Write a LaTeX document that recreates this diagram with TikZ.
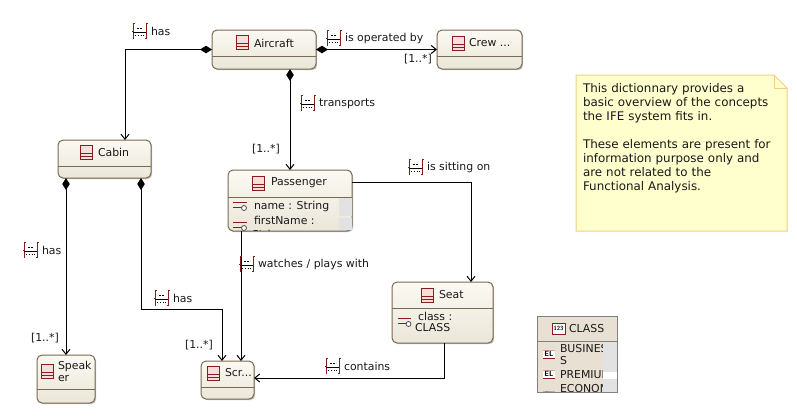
\documentclass[tikz,border=0pt]{standalone}
\usepackage{fontspec}
\setmainfont{DejaVu Sans}
\usetikzlibrary{arrows.meta,shapes.geometric,shadows}
\definecolor{cborder}{HTML}{7A6A50}
\definecolor{ctop}{HTML}{FBF9F2}
\definecolor{cbot}{HTML}{EAE6D9}
\definecolor{cred}{HTML}{8A1C1C}
\definecolor{cpink}{HTML}{F6DEDC}
\definecolor{cenum}{HTML}{E8E1D3}
\definecolor{cenumb}{HTML}{808080}
\definecolor{cscroll}{HTML}{E2E2E2}
\definecolor{cnote}{HTML}{FFFFCE}
\definecolor{cnoteb}{HTML}{F0CE82}
\tikzset{
  x=1pt,y=-1pt,
  every node/.style={font=\fontsize{10.9}{13}\selectfont,inner sep=0pt,outer sep=0pt,text=black!90},
  classbox/.style={draw=cborder,line width=1pt,rounded corners=5pt,top color=ctop,bottom color=cbot,
    drop shadow={shadow xshift=1.2pt,shadow yshift=-1.2pt,fill=black!40,opacity=.6},anchor=north west},
  enumbox/.style={draw=cenumb,line width=.9pt,fill=cenum,anchor=north west,
    drop shadow={shadow xshift=1pt,shadow yshift=-1pt,fill=black!30,opacity=.5}},
  sep/.style={draw=cborder,line width=.9pt},
  txt/.style={anchor=west,align=left},
  assoc/.style={draw=black,line width=1pt,-{Straight Barb[length=5pt,width=8pt]}},
  comp/.style={assoc,{Diamond[length=12pt,width=7.5pt,fill=black]}-{Straight Barb[length=5pt,width=8pt]}},
  classicon/.pic={
    \draw[cred,fill=cpink,line width=.9pt] (-6,-7) rectangle (6,7.5);
    \draw[cred,line width=.9pt] (-6,1.5) -- (6,1.5) (-6,4.5) -- (6,4.5);
  },
  linkicon/.pic={
    \draw[cred,line width=.9pt] (-5.5,-7.5) -- (-7,-7.5) -- (-7,7.5) (-7,0) -- (-8,0);
    \draw[cred,line width=.9pt] (7.5,-7.5) -- (6,-7.5) -- (6,7.5) -- (4.5,7.5);
    \draw[black,line width=.9pt] (-7,1) -- (6,1);
    \draw[black,line width=.7pt,dash pattern=on 2pt off 1pt] (-3,-2.5) -- (3,-2.5);
    \draw[black,line width=.7pt,dash pattern=on .8pt off 2pt] (-5,4) -- (4,4);
  },
  attricon/.pic={
    \draw[cred,line width=.9pt] (-6.5,-4) -- (7,-4);
    \draw[cred,line width=.9pt] (-6.5,1.5) -- (2,1.5);
    \draw[black!70,line width=.8pt,fill=white] (4.5,2) circle (2.5);
  },
  liticon/.pic={
    \fill[white] (-6,-4) rectangle (6,4);
    \draw[cred,line width=.8pt] (-6,4) -- (6,4);
    \draw[cred!40,line width=.8pt] (-6,-4) -- (6,-4);
    \node[font=\sffamily\bfseries\fontsize{7.5}{8}\selectfont,text=black] at (0,0) {EL};
  },
  enumicon/.pic={
    \draw[cred,line width=1pt,fill=white] (-6.5,-5.5) rectangle (6.5,5.5);
    \node[font=\sffamily\bfseries\fontsize{6}{6}\selectfont,text=black] at (0,-.3) {123};
  },
}
\begin{document}
\begin{tikzpicture}
\useasboundingbox (0,0) rectangle (797,416);
% Class boxes
\node[classbox,minimum width=104pt,minimum height=39pt] (aircraft) at (212,30) {};
\node[classbox,minimum width=85pt,minimum height=39pt] (crew) at (437,30) {};
\node[classbox,minimum width=93pt,minimum height=38pt] (cabin) at (58,140) {};
\node[classbox,minimum width=124pt,minimum height=61pt] (passenger) at (228,170) {};
\node[classbox,minimum width=101pt,minimum height=61pt] (seat) at (392,282) {};
\node[classbox,minimum width=58pt,minimum height=48pt] (speaker) at (37,355) {};
\node[classbox,minimum width=53pt,minimum height=38pt] (screen) at (201,361) {};
\node[enumbox,minimum width=80pt,minimum height=76pt] (class) at (537,316) {};
% Separators
\draw[sep] (aircraft.west |- 0,56) -- (aircraft.east |- 0,56);
\draw[sep] (crew.west |- 0,56) -- (crew.east |- 0,56);
\draw[sep] (cabin.west |- 0,166) -- (cabin.east |- 0,166);
\draw[sep] (passenger.west |- 0,197) -- (passenger.east |- 0,197);
\draw[sep] (seat.west |- 0,308) -- (seat.east |- 0,308);
\draw[sep] (speaker.west |- 0,389) -- (speaker.east |- 0,389);
\draw[sep] (screen.west |- 0,387) -- (screen.east |- 0,387);
\draw[cenumb,line width=.9pt] (class.west |- 0,341) -- (class.east |- 0,341);
% Scrollbars
\fill[cscroll] (339,198) rectangle (351.5,216);
\fill[cscroll] (339,217.5) rectangle (351.5,230);
\fill[cscroll] (603,342) rectangle (616.5,372);
\fill[white] (603,372) rectangle (616.5,379);
\fill[cscroll] (603,379) rectangle (616.5,391.5);
% Titles
\pic at (242.5,42) {classicon};
\node[txt] (taircraft) at (254,43) {Aircraft};
\pic at (458,43) {classicon};
\node[txt] (tcrew) at (469,43) {Crew ...};
\pic at (86,152) {classicon};
\node[txt] (tcabin) at (98,152.5) {Cabin};
\pic at (258.5,183) {classicon};
\node[txt] (tpassenger) at (271,183) {Passenger};
\pic at (427.5,295) {classicon};
\node[txt] (tseat) at (439,295) {Seat};
\pic at (47,371) {classicon};
\node[txt] (tspeaker) at (58,366.5) {Speak};
\node[txt] (tspeakertwo) at (58,378.5) {er};
\pic at (213,373) {classicon};
\node[txt] (tscreen) at (225,373) {Scr...};
\pic at (558.5,328.5) {enumicon};
\node[txt] (tclass) at (569,328.5) {CLASS};
% Attributes
\pic at (239.5,206) {attricon};
\node[txt] (aname) at (254,206) {name : String};
\begin{scope}
\clip (229,198) rectangle (338,230.5);
\pic at (239.5,226) {attricon};
\node[txt] (afirst) at (254,220) {firstName :};
\node[txt] (astring) at (252,235) {String};
\end{scope}
\pic at (404,322) {attricon};
\node[txt] (aclass) at (418,316) {class :};
\node[txt] (aclasstype) at (415,328) {CLASS};
\begin{scope}
\clip (538,342) rectangle (602.5,391);
\pic at (549,354) {liticon};
\node[txt] (lbus) at (560,349) {BUSINESS};
\node[txt] (lbustwo) at (560,361) {S};
\pic at (549,374) {liticon};
\node[txt] (lpre) at (560,375) {PREMIUM};
\pic at (549,395) {liticon};
\node[txt] (leco) at (560,389) {ECONOMY};
\end{scope}
% Connectors
\draw[comp] (aircraft.west) -- (125,49.5) -- (cabin.north -| 125,0);
\draw[comp] (aircraft.east) -- (crew.west);
\draw[comp] ([xshift=78pt]aircraft.south west) -- ([xshift=62pt]passenger.north west);
\draw[assoc] ([yshift=-12pt]passenger.north east) -- (471,182) -- ([xshift=79pt]seat.north west);
\draw[assoc] ([xshift=13pt]passenger.south west) -- ([xshift=40pt]screen.north west);
\draw[comp] ([xshift=8pt]cabin.south west) -- ([xshift=29pt]speaker.north west);
\draw[comp] ([xshift=83pt]cabin.south west) -- (141,309) -- (222,309) -- ([xshift=21pt]screen.north west);
\draw[assoc] ([xshift=52pt]seat.south west) -- (444,378) -- ([yshift=2pt]screen.east);
% Link labels
\pic at (140,31) {linkicon};
\node[txt] (l1) at (151,31) {has};
\pic at (334,38) {linkicon};
\node[txt] (l2) at (345,38) {is operated by};
\pic at (308,103) {linkicon};
\node[txt] (l3) at (319,104) {transports};
\pic at (416,167) {linkicon};
\node[txt] (l4) at (427,167.5) {is sitting on};
\pic at (247,264) {linkicon};
\node[txt] (l5) at (258,264.5) {watches / plays with};
\pic at (31,250) {linkicon};
\node[txt] (l6) at (42,250) {has};
\pic at (162,298) {linkicon};
\node[txt] (l7) at (173,298.5) {has};
\pic at (333,366) {linkicon};
\node[txt] (l8) at (344,366.5) {contains};
% Multiplicities
\node[txt] (m1) at (404,59) {[1..*]};
\node[txt] (m2) at (252,149.5) {[1..*]};
\node[txt] (m3) at (31,338) {[1..*]};
\node[txt] (m4) at (185,345) {[1..*]};
% Note
\draw[cnoteb,line width=1pt,fill=cnote] (576,75) -- (774,75) -- (787,88) -- (787,231) -- (576,231) -- cycle;
\draw[cnoteb,line width=1pt] (774,75) -- (774,88) -- (787,88);
\node[txt,anchor=north west,text width=205pt,font=\fontsize{11.9}{14}\selectfont] (note) at (583,83.3) {This dictionnary provides a\\basic overview of the concepts\\the IFE system fits in.\\[14pt]These elements are present for\\information purpose only and\\are not related to the\\Functional Analysis.};
\end{tikzpicture}
\end{document}
